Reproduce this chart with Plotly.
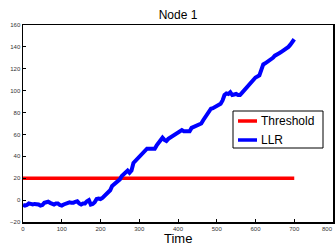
import plotly.graph_objects as go

time = list(range(0, 705, 5))
llr = [-4.3, -5.0, -4.5, -3.0, -3.5, -4.0, -3.5, -3.5, -4.0, -5.0,
       -4.5, -2.5, -2.0, -1.5, -2.5, -3.5, -4.0, -3.0, -3.0, -4.5,
       -5.0, -4.0, -3.0, -2.5, -2.0, -2.5, -2.5, -1.5, -1.0, -3.0,
       -4.0, -3.0, -3.0, -1.0, 0.0, -4.0, -3.5, -2.0, 1.0, 1.5,
       1.0, 2.0, 4.0, 5.5, 7.0, 9.0, 13.0, 14.5, 15.0, 17.0,
       19.0, 22.0, 24.0, 26.0, 27.0, 25.0, 27.0, 34.0, 36.0, 38.0,
       39.0, 41.0, 43.0, 45.0, 47.0, 47.0, 47.0, 46.5, 47.0, 50.0,
       52.0, 55.0, 57.0, 55.0, 54.0, 56.0, 57.0, 58.0, 59.0, 60.0,
       61.0, 62.0, 64.0, 63.0, 63.0, 63.5, 63.0, 66.0, 67.0, 67.5,
       68.0, 69.0, 70.0, 73.0, 76.0, 79.0, 82.0, 83.5, 84.0, 85.0,
       85.0, 86.5, 88.0, 91.0, 96.0, 97.5, 97.0, 98.5, 96.0, 96.5,
       97.0, 96.0, 96.0, 98.0, 100.0, 103.0, 105.0, 106.5, 108.0, 111.0,
       112.0, 113.0, 114.0, 119.0, 124.0, 125.0, 126.0, 128.0, 129.0, 130.0,
       132.0, 133.5, 134.0, 135.0, 136.0, 137.0, 138.0, 140.0, 142.0, 145.0,
       147.0]
threshold_x = [0, 700]
threshold_y = [20, 20]
series_names = ["Threshold", "LLR"]
series_colors = ["#ff0000", "#0000ff"]

# plot area in pixels
W, H = 335, 248
L, R, T, B = 23, 2, 25, 26
PW, PH = W - L - R, H - T - B


def px_x(p):
    return (p - L) / PW


def px_y(p):
    return (H - B - p) / PH


fig = go.Figure()
fig.add_trace(go.Scatter(x=threshold_x, y=threshold_y, mode="lines", name=series_names[0],
                         line=dict(color=series_colors[0], width=3.5)))
fig.add_trace(go.Scatter(x=time, y=llr, mode="lines", name=series_names[1],
                         line=dict(color=series_colors[1], width=4)))

axis_common = dict(showline=True, linecolor="black", linewidth=1.5, mirror=True,
                   ticks="inside", ticklen=3, tickcolor="black", showgrid=False,
                   zeroline=False, automargin=False,
                   tickfont=dict(size=6, color="#333", family="Liberation Sans"))
fig.update_xaxes(range=[0, 800], dtick=100, **axis_common)
fig.update_yaxes(range=[-20, 160], dtick=20, **axis_common)

# custom legend (box, line samples, labels)
shapes = [dict(type="rect", xref="paper", yref="paper",
               x0=px_x(233), x1=px_x(323), y0=px_y(148), y1=px_y(111),
               line=dict(color="black", width=1), fillcolor="white", layer="above")]
annotations = []
for i, (name, col) in enumerate(zip(series_names, series_colors)):
    yc = 121 + i * 19
    shapes.append(dict(type="line", xref="paper", yref="paper",
                       x0=px_x(238), x1=px_x(257), y0=px_y(yc), y1=px_y(yc),
                       line=dict(color=col, width=3.5), layer="above"))
    annotations.append(dict(text=name, xref="paper", yref="paper", x=px_x(259), y=px_y(yc),
                            xanchor="left", yanchor="middle", showarrow=False,
                            font=dict(size=12, color="black", family="Liberation Sans")))
annotations.append(dict(text="Time", xref="paper", yref="paper", x=0.5, y=px_y(239),
                        xanchor="center", yanchor="middle", showarrow=False,
                        font=dict(size=13, color="black", family="Liberation Sans")))
# last x tick label, kept inside the page edge
annotations.append(dict(text="800", xref="x", yref="paper", x=800, y=px_y(229),
                        xanchor="right", xshift=2, yanchor="middle", showarrow=False,
                        font=dict(size=6, color="#333", family="Liberation Sans")))

fig.update_layout(
    width=W, height=H,
    margin=dict(l=L, r=R, t=T, b=B, pad=0),
    paper_bgcolor="white", plot_bgcolor="white",
    title=dict(text="Node 1", x=0.5, xref="paper", xanchor="center",
               y=1 - 15 / H, yref="container", yanchor="middle",
               font=dict(size=12, color="black", family="Liberation Sans")),
    showlegend=False,
    shapes=shapes,
    annotations=annotations,
    font=dict(family="Liberation Sans"),
    hovermode=False,
)

fig.write_html("out.html", config={"displayModeBar": False, "staticPlot": True},
               post_script="document.body.style.margin='0';document.body.style.overflow='hidden';")
